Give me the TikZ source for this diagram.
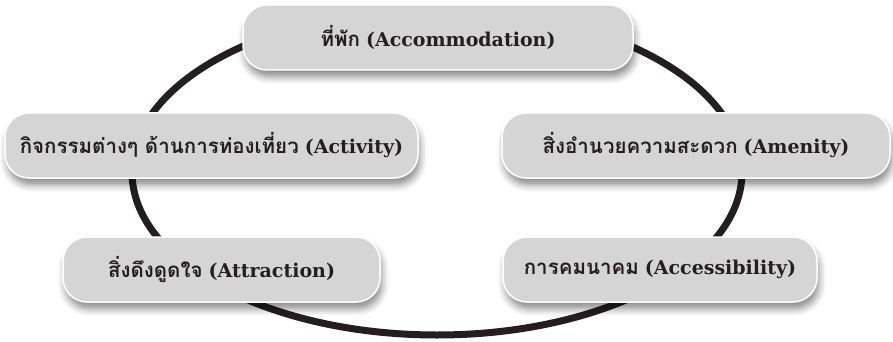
\documentclass[tikz,border=0pt]{standalone}
\usepackage{fontspec}
\setmainfont{DejaVu Serif}
\newfontfamily\thaifont[Script=Thai, Scale=1.08]{Loma}
\usetikzlibrary{positioning,shadows.blur}
\definecolor{boxgray}{HTML}{D5D5D5}
\definecolor{inkblack}{HTML}{231F20}
\newcommand{\thaitext}[1]{{\thaifont\bfseries #1}}
\tikzset{
  factor/.style={draw=white, line width=1.5pt, fill=boxgray,
    rounded corners=24pt, minimum height=65pt, inner sep=0pt,
    text=inkblack, font=\fontsize{19}{22}\selectfont,
    blur shadow={shadow xshift=2pt, shadow yshift=-7pt,
      shadow blur radius=7pt, shadow opacity=45}},
  ring/.style={draw=inkblack, line width=7pt}
}

\begin{document}
\begin{tikzpicture}[x=1pt, y=-1pt]
    \useasboundingbox (0,0) rectangle (893,342);

    % the ring behind the five boxes
    \coordinate (mid) at (437,172);
    \draw[ring] (mid) ellipse [x radius=305, y radius=163];

    \node(accom)[factor, minimum width=390pt] at (438,37.5)
        {\thaitext{ที่พัก} \textbf{(Accommodation)}};
    \node(activity)[factor, minimum width=413pt] at (211.5,145.5)
        {\thaitext{กิจกรรมต่างๆ ด้านการท่องเที่ยว} \textbf{(Activity)}};
    \node(amenity)[factor, minimum width=388pt] at (696,145.5)
        {\thaitext{สิ่งอำนวยความสะดวก} \textbf{(Amenity)}};
    \node(attract)[factor, minimum width=317pt] at (221.5,269.5)
        {\thaitext{สิ่งดึงดูดใจ} \textbf{(Attraction)}};
    \node(access)[factor, minimum width=314pt] at (660,269.5)
        {\thaitext{การคมนาคม} \textbf{(Accessibility)}};

\end{tikzpicture}
\end{document}
